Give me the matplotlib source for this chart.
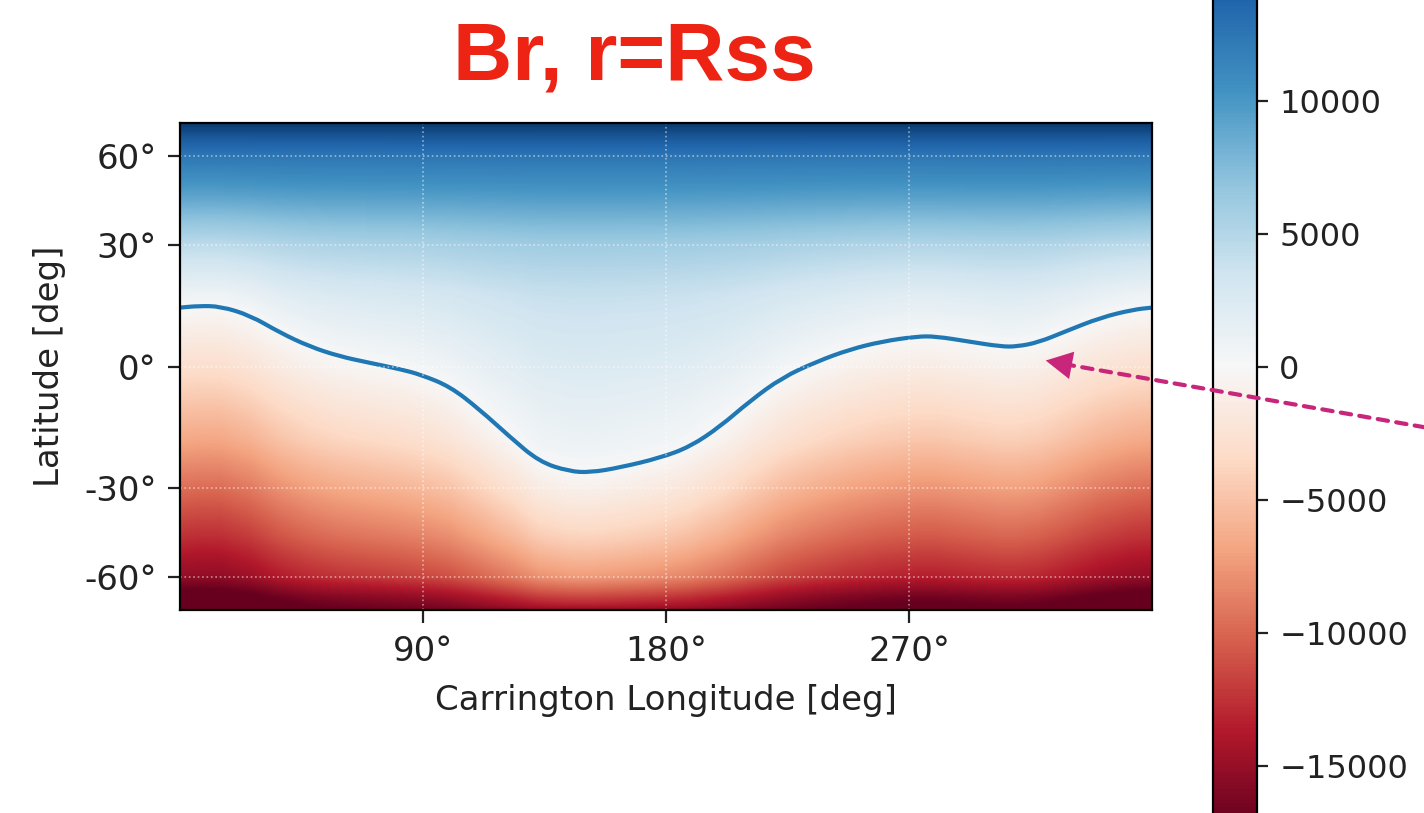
import numpy as np
import matplotlib
matplotlib.use("Agg")
import matplotlib.pyplot as plt
from matplotlib.patches import FancyArrowPatch, PathPatch
from matplotlib.path import Path

# neutral line (Br = 0): Carrington longitude / latitude in deg
ns_lon = [0, 7, 15, 26, 37, 48, 59, 70, 82, 89, 100, 111, 122, 133, 144, 152,
          163, 178, 189, 200, 211, 223, 236, 248, 260, 273, 280, 292, 304, 310,
          318, 328, 341, 353, 360]
ns_lat = [14.0, 14.4, 14.3, 12.1, 8.0, 4.7, 2.4, 0.9, -0.7, -1.9, -4.7, -10.2,
          -16.7, -23.0, -25.5, -25.8, -24.5, -22.0, -19.2, -14.3, -8.2, -2.6,
          1.2, 4.0, 5.9, 7.1, 7.1, 5.9, 4.7, 4.7, 5.7, 8.3, 11.6, 13.5, 14.0]

# mean Br profile against sin(latitude)
prof_s = [-1, -0.95, -0.866, -0.7, -0.5, -0.3, 0, 0.3, 0.5, 0.7, 0.866, 0.95, 1]
prof_br = [-17000, -15500, -12000, -9000, -6000, -3200, 0, 2800, 5500, 9500,
           12500, 14800, 16500]

lat_ticks = [-60, -30, 0, 30, 60]
lat_labels = ["-60°", "-30°", "0°", "30°", "60°"]
lon_ticks = [90, 180, 270]
lon_labels = ["90°", "180°", "270°"]
cbar_ticks = [-15000, -10000, -5000, 0, 5000, 10000]
vlim = 17200

# build the map so that Br = 0 on the neutral line
lon = np.linspace(0, 360, 721)
s = np.linspace(-1, 1, 600)
S, L = np.meshgrid(s, lon, indexing="ij")
s0 = np.sin(np.radians(np.interp(L, ns_lon, ns_lat)))
f0 = np.interp(s0, prof_s, prof_br)
w_north = ((1 - S) / (1 - s0)) ** 2
w_south = (1 - S) / (1 - s0) * ((1 + S) / (1 + s0)) ** 0.25
w = np.where(S > s0, w_north, w_south)
br = np.interp(S, prof_s, prof_br) - f0 * w

W, H = 1424, 813
fig = plt.figure(figsize=(W / 100, H / 100), dpi=100)
ax = fig.add_axes([180 / W, 1 - 610 / H, 972 / W, 487 / H])

im = ax.imshow(br, origin="lower", extent=[0, 360, -1, 1], aspect="auto",
               cmap="RdBu", vmin=-vlim, vmax=vlim, interpolation="bilinear")

# neutral line drawn as a smooth quadratic path through the read points
pts = np.column_stack([ns_lon, np.sin(np.radians(ns_lat))])
mids = (pts[1:] + pts[:-1]) / 2
verts = [pts[0], mids[0]]
codes = [Path.MOVETO, Path.LINETO]
for i in range(1, len(pts) - 1):
    verts += [pts[i], mids[i]]
    codes += [Path.CURVE3, Path.CURVE3]
verts.append(pts[-1])
codes.append(Path.LINETO)
ax.add_patch(PathPatch(Path(verts, codes), fill=False, edgecolor="#1f77b4",
                       lw=3, capstyle="round", joinstyle="round"))

ax.set_xlim(0, 360)
ax.set_ylim(-1, 1)
ax.set_xticks(lon_ticks)
ax.set_xticklabels(lon_labels)
ax.set_yticks(np.sin(np.radians(lat_ticks)))
ax.set_yticklabels(lat_labels)
ax.tick_params(labelsize=24.5, length=9, width=1.6, colors="#222222")
ax.tick_params(axis="y", pad=8)
ax.tick_params(axis="x", pad=9)
for sp in ax.spines.values():
    sp.set_linewidth(1.6)
ax.grid(True, color="white", ls=":", lw=1.2, alpha=0.5)
ax.set_xlabel("Carrington Longitude [deg]", fontsize=24.5, color="#222222")
ax.set_ylabel("Latitude [deg]", fontsize=24.5, color="#222222")
ax.xaxis.set_label_coords(0.5, -0.152)
ax.yaxis.set_label_coords(-0.117, 0.5)

# colorbar runs past the top and bottom of the picture
top = 367 - vlim * 133 / 5000
bot = 367 + vlim * 133 / 5000
cax = fig.add_axes([1213 / W, 1 - bot / H, 44 / W, (bot - top) / H])
cb = fig.colorbar(im, cax=cax, ticks=cbar_ticks)
cb.outline.set_linewidth(1.6)
cax.tick_params(labelsize=23, length=8, width=1.6, pad=8, colors="#222222")

fig.text(634 / W, 1 - 80 / H, "Br, r=Rss", color="#ED2314", fontsize=59,
         fontweight="bold", family="Liberation Sans", ha="center", va="baseline")

# dashed pointer onto the neutral line
def px(x, y):
    return (x / W, 1 - y / H)

fig.add_artist(FancyArrowPatch(px(1520, 444), px(1058, 363), transform=fig.transFigure,
                               arrowstyle="-", color="#C8267A", lw=3,
                               linestyle=(0, (2.5, 2))))
fig.add_artist(FancyArrowPatch(px(1075, 366), px(1043, 360), transform=fig.transFigure,
                               arrowstyle="-|>,head_length=0.95,head_width=0.5",
                               mutation_scale=20, color="#C8267A", lw=0))

fig.savefig("out.png", dpi=100)
